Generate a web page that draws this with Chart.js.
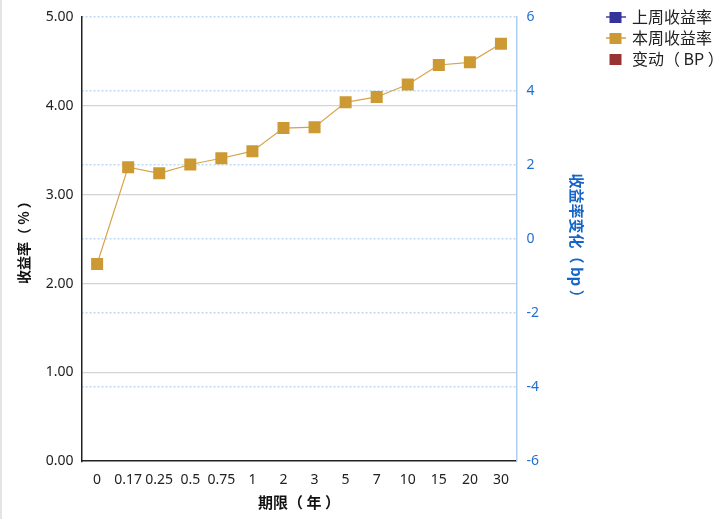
<!DOCTYPE html>
<html>
<head>
<meta charset="utf-8">
<script src="https://cdn.jsdelivr.net/npm/chart.js@4"></script>
<style>
  body { margin: 0; background: #fff; }
  #wrap { width: 728px; height: 519px; border-left: 2px solid #e4e4e4; box-sizing: border-box; }
</style>
</head>
<body>
<div id="wrap"><canvas id="yieldChart" width="726" height="519"></canvas></div>
<script>
const terms = ['0', '0.17', '0.25', '0.5', '0.75', '1', '2', '3', '5', '7', '10', '15', '20', '30'];
const lastWeek = [];
const thisWeek = [2.22, 3.31, 3.24, 3.34, 3.41, 3.49, 3.75, 3.76, 4.04, 4.10, 4.24, 4.46, 4.49, 4.70];
const changeBp = [];
const leftTicks = [0, 1, 2, 3, 4, 5];
const rightTicks = [-6, -4, -2, 0, 2, 4, 6];

const FONT = '"Noto Sans", "Noto Sans CJK SC", sans-serif';
const CJK = '"Noto Sans CJK SC", "Noto Sans", sans-serif';

function legendIcon(color, withLine) {
  const c = document.createElement('canvas');
  c.width = 20; c.height = 12;
  const ctx = c.getContext('2d');
  if (withLine) {
    ctx.fillStyle = color;
    ctx.globalAlpha = 0.7;
    ctx.fillRect(0, 5, 20, 2);
    ctx.globalAlpha = 1;
  }
  ctx.fillStyle = color;
  ctx.fillRect(4, 1, 12, 11);
  return c;
}
const icons = [
  legendIcon('#333399', true),
  legendIcon('#cc9933', true),
  legendIcon('#993333', false)
];

new Chart(document.getElementById('yieldChart'), {
  type: 'line',
  data: {
    labels: terms,
    datasets: [{
      label: '上周收益率',
      data: lastWeek,
      yAxisID: 'y',
      borderColor: '#333399',
      backgroundColor: '#333399',
      borderWidth: 1,
      pointStyle: 'rect',
      pointRadius: 8.5
    }, {
      label: '本周收益率',
      data: thisWeek,
      yAxisID: 'y',
      borderColor: '#d6a447',
      backgroundColor: '#cc9933',
      borderWidth: 1.2,
      pointStyle: 'rect',
      pointRadius: 8.5,
      pointBorderWidth: 0,
      pointBackgroundColor: '#cc9933'
    }, {
      type: 'bar',
      label: '变动（ BP ）',
      data: changeBp,
      yAxisID: 'y1',
      backgroundColor: '#993333'
    }]
  },
  options: {
    responsive: false,
    animation: false,
    layout: { padding: { top: 4, bottom: 4, left: 0, right: 6 } },
    plugins: {
      tooltip: { enabled: false },
      legend: {
        position: 'right',
        align: 'start',
        labels: {
          usePointStyle: true,
          pointStyleWidth: 17,
          padding: 5,
          color: '#222',
          font: { family: CJK, size: 16 },
          generateLabels(chart) {
            const items = Chart.defaults.plugins.legend.labels.generateLabels(chart);
            return items.map((it, i) => Object.assign(it, { pointStyle: icons[i] }));
          }
        }
      }
    },
    scales: {
      x: {
        offset: true,
        grid: { display: false, drawTicks: false },
        border: { color: '#222', width: 1.5 },
        ticks: { color: '#222', font: { family: FONT, size: 14 }, padding: 10, autoSkip: false, maxRotation: 0 },
        title: { display: true, text: '期限（ 年 ）', color: '#111', font: { family: CJK, size: 15, weight: 'bold' }, padding: { top: -5, bottom: 4 } }
      },
      y: {
        position: 'left',
        min: 0,
        max: 5,
        afterBuildTicks(scale) { scale.ticks = leftTicks.map(v => ({ value: v })); },
        grid: {
          drawTicks: false,
          color: ctx => (ctx.tick && (ctx.tick.value === 5 || ctx.tick.value === 0)) ? 'rgba(0,0,0,0)' : '#d4d4d4',
          lineWidth: 1.2
        },
        border: { color: '#222', width: 1.5 },
        ticks: { color: '#222', font: { family: FONT, size: 14, lineHeight: 1 }, padding: 8, callback: v => Number(v).toFixed(2) },
        title: { display: true, text: '收益率（ % ）', color: '#111', font: { family: CJK, size: 14, weight: 'bold' }, padding: { top: 13, bottom: 6 } }
      },
      y1: {
        position: 'right',
        min: -6,
        max: 6,
        afterBuildTicks(scale) { scale.ticks = rightTicks.map(v => ({ value: v })); },
        grid: {
          drawTicks: false,
          color: ctx => (ctx.tick && ctx.tick.value === -6) ? 'rgba(0,0,0,0)' : '#bdd9f4',
          lineWidth: 1.5
        },
        border: { color: '#aecdf0', width: 1.5, dash: [2, 2] },
        ticks: { color: '#1f6fd0', font: { family: FONT, size: 14, lineHeight: 1 }, padding: 10 },
        title: { display: true, text: '收益率变化（ bp ）', color: '#1565c8', font: { family: CJK, size: 15, weight: 'bold' }, padding: { top: 16, bottom: 19 } }
      }
    }
  }
});
</script>
</body>
</html>
